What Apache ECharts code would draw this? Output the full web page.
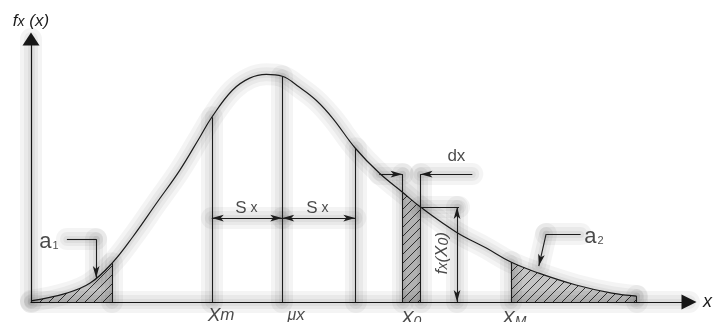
<!DOCTYPE html>
<html><head><meta charset="utf-8">
<script src="https://cdn.jsdelivr.net/npm/echarts@6/dist/echarts.min.js"></script>
<style>html,body{margin:0;padding:0;background:#fff}#c{width:715px;height:322px}</style>
</head><body><div id="c"></div>
<script>
// density curve (x in arbitrary units, y = density)
const curveX = [0, 0.54, 0.89, 1.22, 1.53, 1.89, 2.24, 2.54, 2.72, 3.03, 3.29, 3.54, 3.78, 4.04, 4.29, 4.54, 4.88, 5.24, 5.59, 5.86, 6.40, 6.85, 7.22, 7.64, 8.20, 8.74, 9.11];
const curveY = [0.004, 0.033, 0.070, 0.144, 0.241, 0.367, 0.489, 0.611, 0.685, 0.785, 0.830, 0.844, 0.837, 0.796, 0.748, 0.681, 0.570, 0.478, 0.407, 0.352, 0.259, 0.200, 0.148, 0.107, 0.063, 0.033, 0.022];
// shaded ranges
const a1Range = [0, 1.22];
const x0Range = [5.59, 5.86];
const a2Range = [7.22, 9.11];
// guide lines: Xm, mu_x, mu_x + s_x
const guideX = [2.72, 3.78, 4.88];
const sxArrowY = 0.311;
const dxArrowY = 0.474;
const dxArrowEnds = [5.24, 6.64];
const fxBracket = [6.41, 6.44];
const a1Leader = [[0.54, 0.233], [0.98, 0.233], [0.98, 0.089]];
const a2Leader = [[8.27, 0.252], [7.75, 0.252], [7.64, 0.133]];
const axisMax = [9.9, 0.975];
// text labels
const labelTexts = ['{X|X}{s|m}', '{m|μ}{s|x}', '{X|X}{d|0}', '{X|X}{d|M}', '{u|S}{ux| x}', '{u|S}{ux| x}', '{u|dx}', '{i|f}{fs|x}{i|(X}{fd|0}{i|)}', '{a|a}{ad|1}', '{a|a}{ad|2}'];
const labelX = [2.86, 3.99, 5.72, 7.27, 3.24, 4.31, 6.40, 6.19, 0.27, 8.47];
const labelY = [-0.050, -0.050, -0.062, -0.062, 0.348, 0.348, 0.540, 0.181, 0.222, 0.241];
const labelRotate = [0, 0, 0, 0, 0, 0, 0, 90, 0, 0];

const INK = '#1c1c1c';
const glowWidths = [22, 14, 7];
function yAt(x) { const i = curveX.indexOf(x); return curveY[i]; }
function ptsIn(r) { const out = []; curveX.forEach((x, i) => { if (x >= r[0] - 1e-9 && x <= r[1] + 1e-9) out.push([x, curveY[i]]); }); return out; }

const cv = document.createElement('canvas'); cv.width = 9; cv.height = 9;
const g = cv.getContext('2d');
g.fillStyle = '#c4c4c4'; g.fillRect(0, 0, 9, 9);
g.strokeStyle = '#222'; g.lineWidth = 0.9;
g.beginPath(); g.moveTo(-1, 10); g.lineTo(10, -1); g.moveTo(-1, 1); g.lineTo(1, -1); g.moveTo(8, 10); g.lineTo(10, 8); g.stroke();
const hatch = {image: cv, repeat: 'repeat'};

const ARW = 'arrow';
function seg(p, q, s0, s1, sz) {
  return [{coord: p, symbol: s0 || 'none', symbolSize: sz || [5, 12]}, {coord: q, symbol: s1 || 'none', symbolSize: sz || [5, 12]}];
}
const ml = [];
ml.push(seg([a1Range[1], 0], [a1Range[1], yAt(a1Range[1])]));
guideX.forEach(x => ml.push(seg([x, 0], [x, yAt(x)])));
ml.push(seg([a2Range[0], 0], [a2Range[0], yAt(a2Range[0])]));
ml.push(seg([a2Range[1], 0], [a2Range[1], yAt(a2Range[1])]));
x0Range.forEach(x => ml.push(seg([x, 0], [x, dxArrowY])));
ml.push(seg([guideX[0], sxArrowY], [guideX[1], sxArrowY], ARW, ARW));
ml.push(seg([guideX[1], sxArrowY], [guideX[2], sxArrowY], ARW, ARW));
ml.push(seg([dxArrowEnds[0], dxArrowY], [x0Range[0], dxArrowY], 'none', ARW));
ml.push(seg([dxArrowEnds[1], dxArrowY], [x0Range[1], dxArrowY], 'none', ARW));
ml.push(seg([x0Range[1], yAt(x0Range[1])], [fxBracket[1], yAt(x0Range[1])]));
ml.push(seg([fxBracket[0], yAt(x0Range[1])], [fxBracket[0], 0], ARW, ARW));
ml.push(seg(a1Leader[0], a1Leader[1]));
ml.push(seg(a1Leader[1], a1Leader[2], 'none', ARW));
ml.push(seg(a2Leader[0], a2Leader[1]));
ml.push(seg(a2Leader[1], a2Leader[2], 'none', ARW));
// glow copies (plus the axes)
const glowLines = ml.map(s => [{coord: s[0].coord, symbol: 'none'}, {coord: s[1].coord, symbol: 'none'}]);
glowLines.push([{coord: [0, 0], symbol: 'none'}, {coord: [axisMax[0], 0], symbol: 'none'}]);
glowLines.push([{coord: [0, 0], symbol: 'none'}, {coord: [0, axisMax[1]], symbol: 'none'}]);

const F = 'Liberation Sans, Arial, sans-serif';
const rich = {
  X: {fontFamily: F, fontStyle: 'italic', fontSize: 19, color: INK},
  s: {fontFamily: F, fontStyle: 'italic', fontSize: 17, color: INK},
  m: {fontFamily: F, fontStyle: 'italic', fontSize: 16, color: INK},
  d: {fontFamily: F, fontStyle: 'italic', fontSize: 14, color: INK, padding: [6, 0, 0, 0]},
  u: {fontFamily: F, fontSize: 17, color: INK},
  ux: {fontFamily: F, fontSize: 14, color: INK},
  i: {fontFamily: F, fontStyle: 'italic', fontSize: 17, color: INK},
  fs: {fontFamily: F, fontStyle: 'italic', fontSize: 14, color: INK, padding: [2, 0, 0, 0]},
  fd: {fontFamily: F, fontStyle: 'italic', fontSize: 14, color: INK, padding: [4, 0, 0, 0]},
  a: {fontFamily: F, fontSize: 22, color: INK},
  ad: {fontFamily: F, fontSize: 11, color: INK, padding: [8, 0, 0, 1]}
};
const labelData = labelTexts.map((t, i) => ({
  value: [labelX[i], labelY[i]],
  label: {show: true, position: 'inside', formatter: t, rotate: labelRotate[i], rich: rich}
}));

const series = [];
glowWidths.forEach(w => {
  const ls = {color: 'rgba(0,0,0,0.045)', width: w, type: 'solid', cap: 'round'};
  series.push({type: 'line', data: curveX.map((x, i) => [x, curveY[i]]), smooth: 0.4, showSymbol: false,
    lineStyle: ls, silent: true, z: 0,
    markLine: {silent: true, animation: false, label: {show: false}, data: glowLines, lineStyle: ls, emphasis: {disabled: true}}});
});
series.push(
  {type: 'line', data: ptsIn(a1Range), smooth: 0.4, showSymbol: false, lineStyle: {width: 0}, areaStyle: {color: hatch, opacity: 1}, silent: true, z: 1},
  {type: 'line', data: ptsIn(x0Range), smooth: 0.4, showSymbol: false, lineStyle: {width: 0}, areaStyle: {color: hatch, opacity: 1}, silent: true, z: 1},
  {type: 'line', data: ptsIn(a2Range), smooth: 0.4, showSymbol: false, lineStyle: {width: 0}, areaStyle: {color: hatch, opacity: 1}, silent: true, z: 1},
  {type: 'line', data: curveX.map((x, i) => [x, curveY[i]]), smooth: 0.4, showSymbol: false,
   lineStyle: {color: INK, width: 1.2}, silent: true, z: 3,
   markLine: {silent: true, animation: false, label: {show: false}, data: ml,
              lineStyle: {color: INK, width: 1.1, type: 'solid'},
              itemStyle: {color: INK}, emphasis: {disabled: true}}},
  {type: 'scatter', data: labelData, symbolSize: 1, itemStyle: {color: 'rgba(0,0,0,0)'}, clip: false, silent: true, z: 5}
);

const chart = echarts.init(document.getElementById('c'), null, {renderer: 'canvas'});
chart.setOption({
  animation: false,
  backgroundColor: '#fff',
  grid: {left: 31, right: 25, top: 39, bottom: 20},
  xAxis: {
    type: 'value', min: 0, max: axisMax[0],
    name: 'x', nameLocation: 'end', nameGap: 14,
    nameTextStyle: {fontFamily: F, fontStyle: 'italic', fontSize: 18, color: INK},
    axisLine: {onZero: false, symbol: ['none', 'triangle'], symbolSize: [15, 15], lineStyle: {color: INK, width: 1.2}},
    axisTick: {show: false}, axisLabel: {show: false}, splitLine: {show: false}
  },
  yAxis: {
    type: 'value', min: 0, max: axisMax[1],
    name: '{i|f}{fs|x}{i| (x)}', nameLocation: 'end', nameGap: 9,
    nameTextStyle: {align: 'center', rich: rich},
    axisLine: {symbol: ['none', 'triangle'], symbolSize: [17, 13], lineStyle: {color: INK, width: 1.2}},
    axisTick: {show: false}, axisLabel: {show: false}, splitLine: {show: false}
  },
  series: series
});
</script></body></html>
